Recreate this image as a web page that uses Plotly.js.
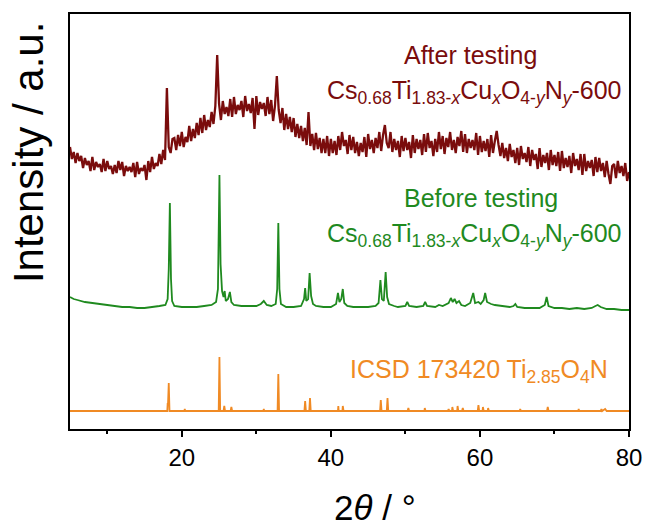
<!DOCTYPE html>
<html>
<head>
<meta charset="utf-8">
<script src="https://cdn.plot.ly/plotly-3.0.1.min.js"></script>
<style>html,body{margin:0;padding:0;background:#fff;}#chart{width:646px;height:526px;}</style>
</head>
<body>
<div id="chart"></div>
<script>
// ---- After testing (dark red), sampled every 0.25 deg from 5 to 80 ----
const afterStart = 5;
const afterStep = 0.25;
const afterIntensity = [
282,270,277,266, 276,268,273,261, 271,264,268,258, 272,259,267,262, 265,257,270,258,
268,260,263,255, 264,256,268,259, 267,253,263,258, 262,257,266,252, 267,255,261,258,
264,249,268,257, 272,260,266,263, 275,265,279,269, 341,282,276,290, 291,279,294,283,
297,282,292,287, 303,288,300,291, 306,294,311,296, 314,299,309,302, 317,305,323,374,
325,309,328,315, 322,313,330,312, 332,315,324,319, 328,312,333,318, 325,316,331,300,
333,314,327,320, 326,313,332,315, 329,308,323,353, 319,306,321,299, 315,300,312,297,
311,292,305,291, 303,288,301,284, 317,283,295,279, 296,280,291,276, 290,276,293,273,
290,276,288,274, 293,279,297,283, 289,275,294,279, 292,276,287,273, 286,277,292,272,
295,280,289,276, 291,281,297,278, 294,304,286,281, 297,277,290,279, 288,272,293,278,
291,279,287,271, 294,276,290,280, 289,274,295,277, 296,281,288,273, 290,277,297,280,
293,275,291,282, 297,279,289,276, 292,283,298,277, 295,276,290,281, 289,279,296,274,
293,277,288,278, 290,272,294,276, 288,298,284,273, 286,271,281,268, 285,272,279,266,
281,264,283,270, 276,267,282,263, 279,269,275,260, 281,262,274,266, 276,259,279,264,
274,263,277,258, 278,261,271,262, 273,256,276,263, 270,259,275,254, 275,258,268,261,
269,253,272,257, 271,258,266,252, 268,255,245,263, 265,251,268,256, 263,253,266,248,
257
];
const afterAngle = afterIntensity.map((_, i) => afterStart + i * afterStep);

// ---- Before testing (green) ----
const beforeAngle = [
5.0,5.5,6.0,7.0,8.0,9.0,10.0,11.0,12.0,13.0,14.0,15.0,16.0,17.0,17.8,18.1,18.25,18.4,18.55,18.7,
19.0,20.0,21.0,22.0,23.0,24.0,24.6,24.85,25.05,25.2,25.4,25.6,25.75,25.9,26.2,26.45,26.65,27.0,28.0,29.0,
30.0,30.6,31.0,31.4,32.0,32.6,32.8,32.95,33.1,33.3,34.0,35.0,36.0,36.4,36.55,36.7,36.95,37.15,37.35,37.6,
38.0,39.0,40.0,40.7,40.95,41.15,41.4,41.6,41.8,42.2,43.0,44.0,45.0,46.0,46.4,46.65,46.85,47.1,47.35,47.55,
47.8,48.5,49.0,50.0,50.25,50.5,51.5,52.4,52.65,52.9,54.0,54.5,55.0,55.8,56.1,56.35,56.6,56.85,57.2,57.5,
58.0,58.7,59.1,59.35,59.8,60.1,60.5,60.7,60.95,61.5,62.0,63.0,64.0,64.5,64.75,65.0,66.0,67.0,68.0,68.7,
68.95,69.2,70.0,71.0,72.0,73.0,74.0,75.0,75.5,75.8,76.2,77.0,78.0,79.0,80.0
];
const beforeIntensity = [
132,130,129,127,126,125,124,123,122,122,121,121,122,123,124,130,160,226,150,128,
123,122,122,122,123,124,127,140,254,165,138,132,138,128,130,137,127,124,123,123,
123,125,128,124,123,125,140,206,140,125,122,122,123,130,141,128,130,156,133,125,
123,122,122,125,136,127,130,140,126,123,122,122,122,123,126,149,130,128,157,132,
125,123,122,123,127,123,122,123,127,123,122,124,123,126,131,127,130,126,128,124,
123,126,136,126,127,125,129,136,127,125,124,123,122,123,125,122,121,121,121,124,
132,123,121,121,120,121,120,121,123,124,122,120,120,119,119
];

// ---- ICSD 173420 reference (orange) ----
const refAngle = [
5.0,18.05,18.1,18.15,18.25,18.35,20.35,20.4,20.45,24.95,25.05,25.15,25.6,25.7,25.8,26.55,26.65,26.75,
30.95,31.0,31.05,32.85,32.95,33.05,36.45,36.55,36.65,37.1,37.2,37.3,40.95,41.0,41.05,41.55,41.6,41.7,
46.6,46.7,46.8,47.5,47.6,47.7,50.3,50.4,50.5,52.55,52.6,52.7,55.7,55.8,55.9,56.25,56.3,56.4,
56.95,57.0,57.1,57.6,57.7,57.8,59.7,59.8,59.9,60.35,60.4,60.5,61.05,61.1,61.2,65.35,65.4,65.5,
69.0,69.1,69.2,73.2,73.25,73.3,76.2,76.3,76.4,76.8,77.0,80.0
];
const refIntensity = [
18,18,25,25,46,18,18,20,18,18,72,18,18,23,18,18,22,18,
18,20,18,18,55,18,18,28,18,18,31,18,18,23,18,18,23,18,
18,29,18,18,31,18,18,21,18,18,21,18,18,20,18,18,22,18,
18,23,18,18,21,18,18,24,18,18,22,18,18,21,18,18,20,18,
18,22,18,18,20,18,18,20,18,20,18,18
];

const xTicks = [20, 40, 60, 80];
const xMinorTicks = [10, 30, 50, 70];

const labelAfter = "After testing";
const labelBefore = "Before testing";
const formula = "Cs<sub>0.68</sub>Ti<sub>1.83-<i>x</i></sub>Cu<sub><i>x</i></sub>O<sub>4-<i>y</i></sub>N<sub><i>y</i></sub>-600";
const labelRef = "ICSD 173420 Ti<sub>2.85</sub>O<sub>4</sub>N";
const xTitle = "2<i>θ</i> / °";
const yTitle = "Intensity / a.u.";

const cRed = "#7a0c0c", cGreen = "#1f8a1f", cOrange = "#f08a24";
const font = "Liberation Sans, Arial, sans-serif";

const traces = [
  {x: afterAngle, y: afterIntensity, mode: "lines", line: {color: cRed, width: 2.3, simplify: false}, hoverinfo: "skip"},
  {x: beforeAngle, y: beforeIntensity, mode: "lines", line: {color: cGreen, width: 1.8, simplify: false}, hoverinfo: "skip"},
  {x: refAngle, y: refIntensity, mode: "lines", line: {color: cOrange, width: 1.8, simplify: false}, hoverinfo: "skip"}
];

const ann = (x, y, text, color) => ({x, y, xref: "x", yref: "y", text, showarrow: false,
  xanchor: "left", yanchor: "middle", font: {family: font, size: 25, color}});

const layout = {
  width: 646, height: 526,
  margin: {l: 70, r: 17, t: 14, b: 97},
  paper_bgcolor: "#fff", plot_bgcolor: "#fff",
  showlegend: false,
  font: {family: font, color: "#000"},
  xaxis: {
    range: [5, 80], tickvals: xTicks, ticktext: xTicks.map(String),
    showline: true, mirror: true, linecolor: "#000", linewidth: 2,
    ticks: "outside", ticklen: 6, tickwidth: 2, tickcolor: "#000",
    minor: {tickvals: xMinorTicks, ticks: "outside", ticklen: 3, tickwidth: 2, tickcolor: "#000", showgrid: false},
    showgrid: false, zeroline: false,
    tickfont: {family: font, size: 24, color: "#000"}
  },
  yaxis: {
    range: [0, 415], showticklabels: false, ticks: "",
    showline: true, mirror: true, linecolor: "#000", linewidth: 2,
    showgrid: false, zeroline: false
  },
  annotations: [
    ann(49.5, 374, labelAfter, cRed),
    ann(39.2, 337, formula, cRed),
    ann(49.5, 231, labelBefore, cGreen),
    ann(39.2, 194, formula, cGreen),
    ann(42.3, 58, labelRef, cOrange),
    {x: -0.075, y: 0.665, xref: "paper", yref: "paper", text: yTitle, textangle: -90,
     showarrow: false, xanchor: "center", yanchor: "middle", font: {family: font, size: 42, color: "#000"}},
    {x: 0.545, y: -0.19, xref: "paper", yref: "paper", text: xTitle,
     showarrow: false, xanchor: "center", yanchor: "middle", font: {family: font, size: 35, color: "#000"}}
  ]
};

Plotly.newPlot("chart", traces, layout, {displayModeBar: false, staticPlot: true});
</script>
</body>
</html>
